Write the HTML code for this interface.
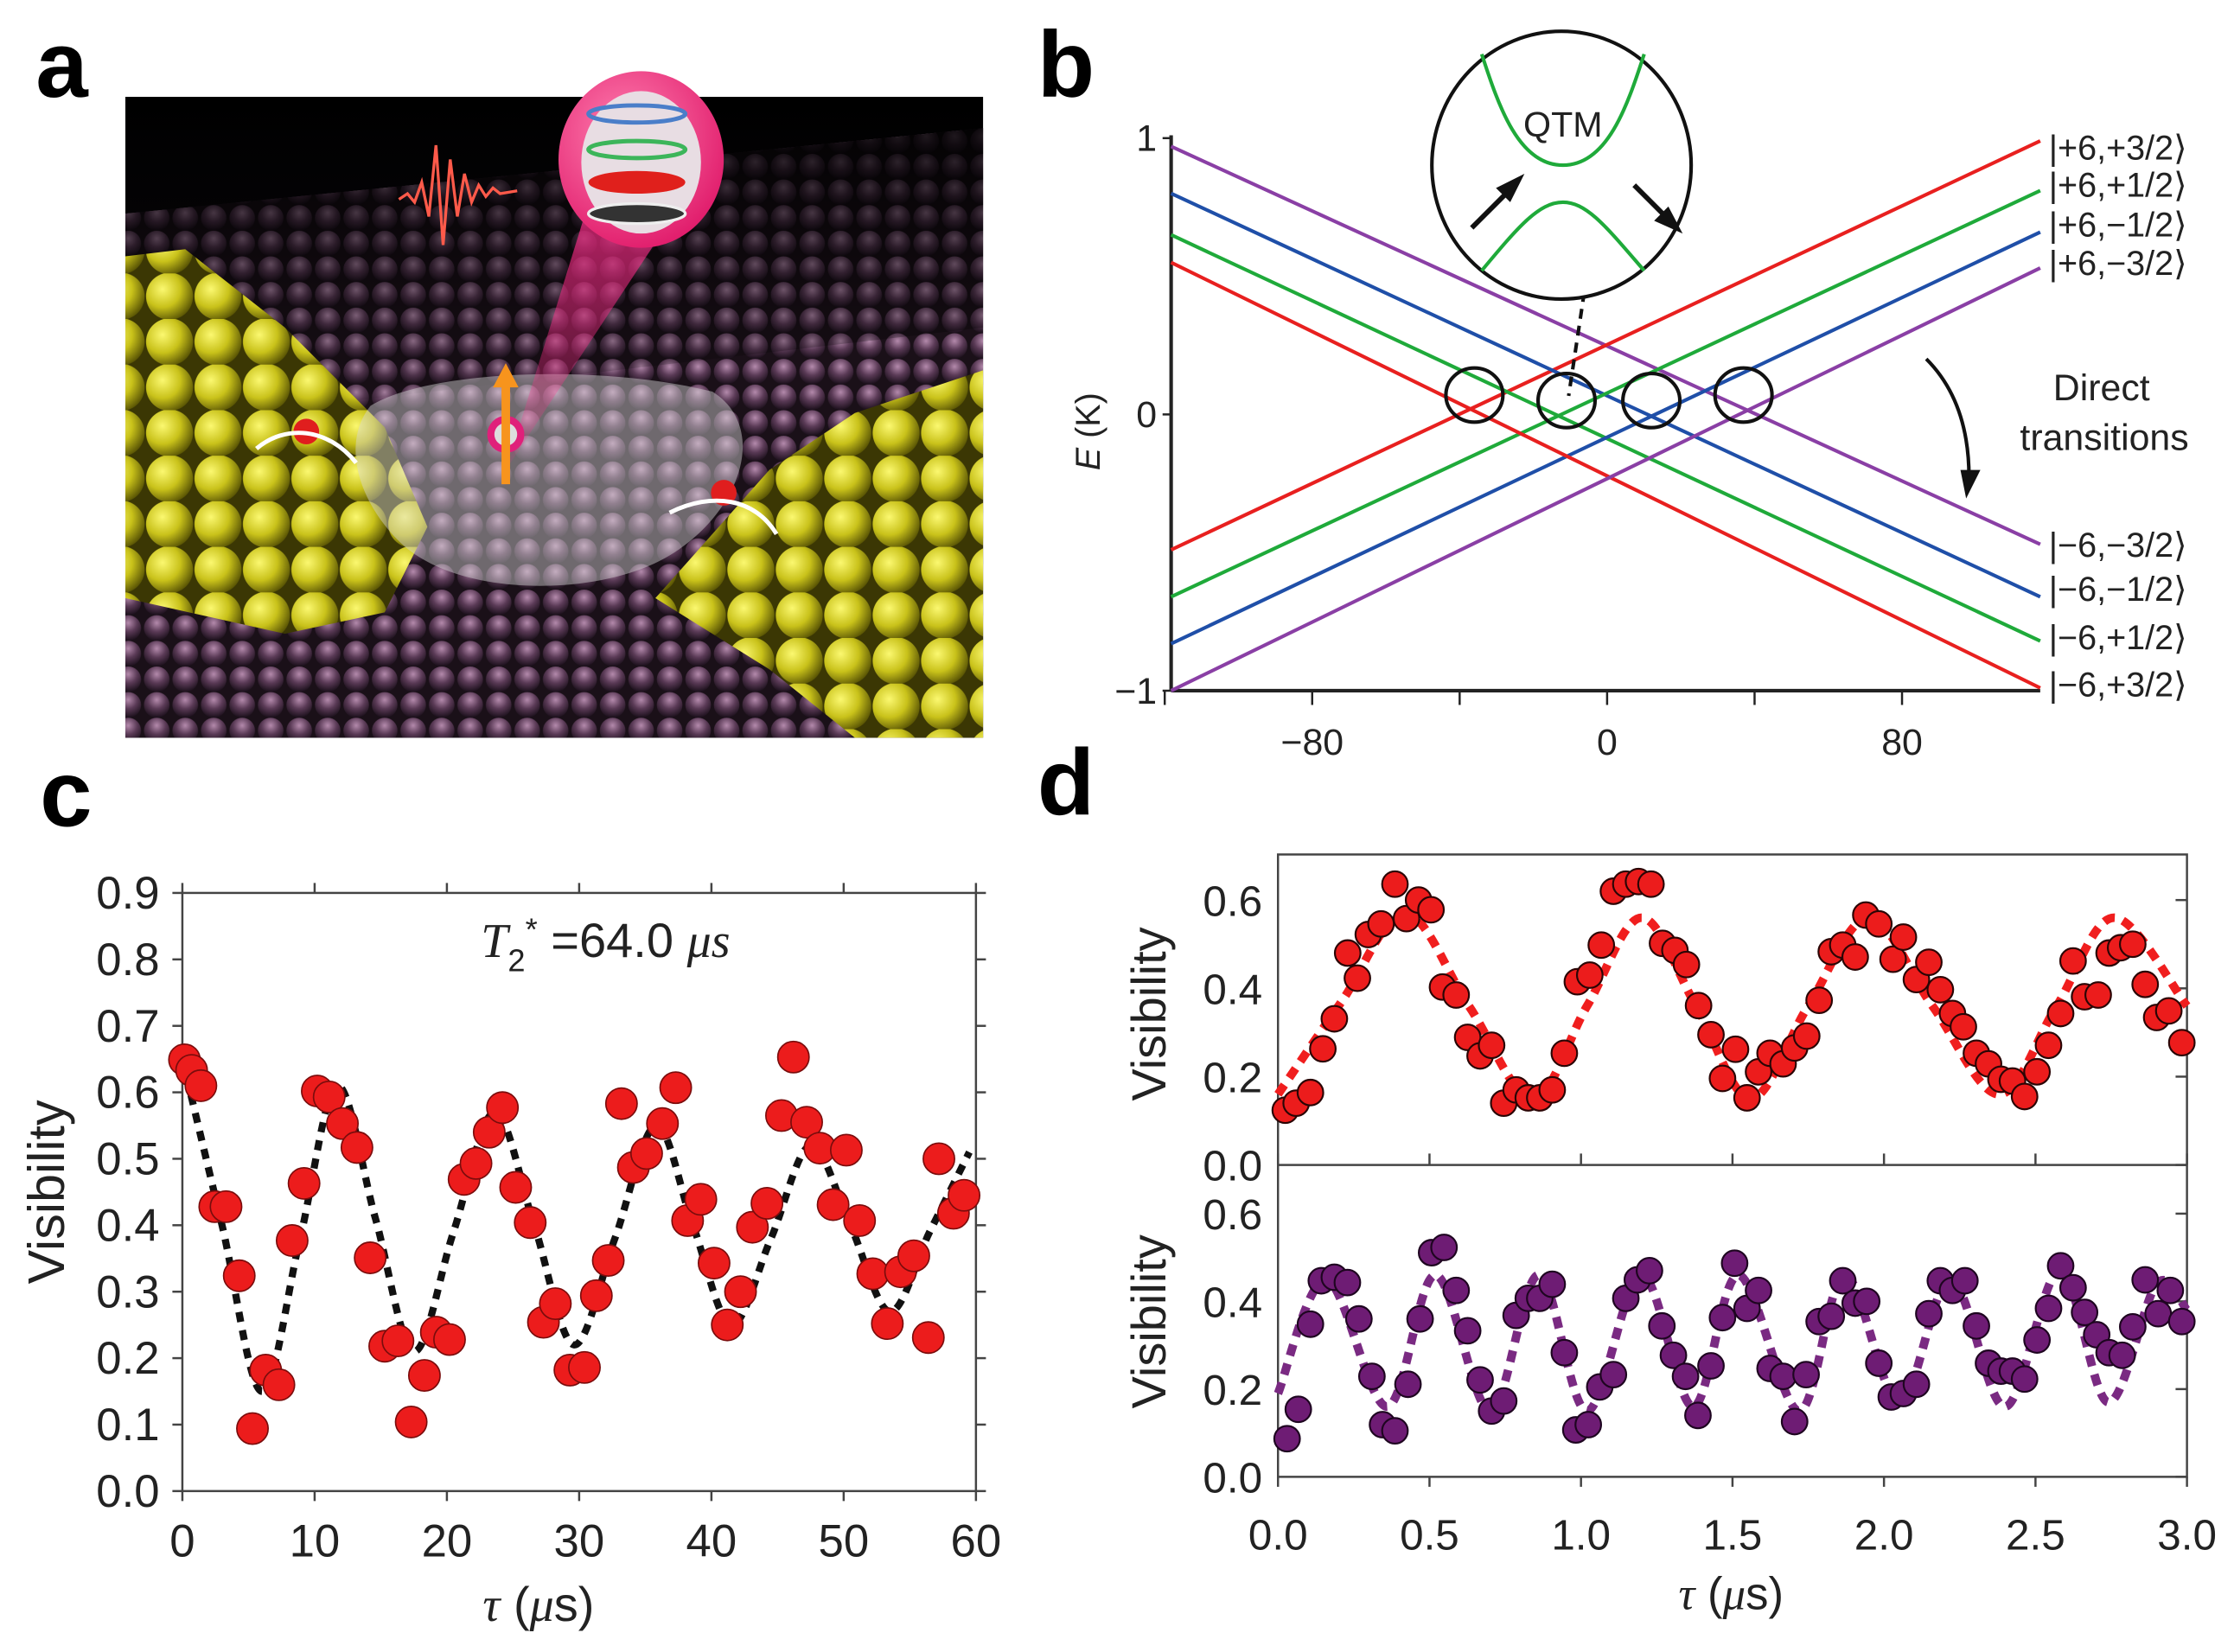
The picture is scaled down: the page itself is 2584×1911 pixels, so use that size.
<!DOCTYPE html>
<html><head><meta charset="utf-8"><style>
html,body{margin:0;padding:0;background:#fff;}
svg{display:block;font-family:"Liberation Sans","DejaVu Sans",sans-serif;}
</style></head><body>
<svg id="fig" width="2584" height="1911" viewBox="0 0 1568 1160" preserveAspectRatio="none" xmlns="http://www.w3.org/2000/svg">
<defs>
<radialGradient id="gold" cx="0.35" cy="0.35" r="0.7"><stop offset="0" stop-color="#fbf870"/><stop offset="0.55" stop-color="#c9c21a"/><stop offset="1" stop-color="#5d5805"/></radialGradient>
<radialGradient id="pinkball" cx="0.5" cy="0.3" r="0.7"><stop offset="0" stop-color="#b48aac"/><stop offset="0.5" stop-color="#5a3a56"/><stop offset="1" stop-color="#1a0f1a"/></radialGradient>
<pattern id="floor" width="20" height="18" patternUnits="userSpaceOnUse"><rect width="20" height="18" fill="#1a1018"/><circle cx="10" cy="9" r="9" fill="url(#pinkball)"/></pattern>
<pattern id="goldp" width="34" height="32" patternUnits="userSpaceOnUse"><rect width="34" height="32" fill="#3b3704"/><circle cx="17" cy="16" r="16.5" fill="url(#gold)"/></pattern>
<linearGradient id="sky" x1="0" y1="0" x2="0" y2="1"><stop offset="0" stop-color="#000"/><stop offset="1" stop-color="#15101a"/></linearGradient>
<linearGradient id="fade" x1="0" y1="0" x2="0" y2="1"><stop offset="0" stop-color="#000" stop-opacity="0.85"/><stop offset="1" stop-color="#000" stop-opacity="0"/></linearGradient>
<radialGradient id="pinkS" cx="0.4" cy="0.35" r="0.7"><stop offset="0" stop-color="#ff7fb0"/><stop offset="1" stop-color="#e01a6a"/></radialGradient>
<linearGradient id="beam" x1="0" y1="0" x2="0" y2="1"><stop offset="0" stop-color="#ff2d8a" stop-opacity="0.8"/><stop offset="1" stop-color="#ff2d8a" stop-opacity="0.1"/></linearGradient>
</defs>

<text x="25" y="68" font-size="66" font-weight="bold">a</text>
<text x="728" y="68" font-size="66" font-weight="bold">b</text>
<text x="28" y="580" font-size="66" font-weight="bold">c</text>
<text x="728" y="572" font-size="66" font-weight="bold">d</text>

<g>
<rect x="88" y="68" width="602" height="450" fill="url(#sky)"/>
<polygon points="88,150 690,90 690,518 88,518" fill="url(#floor)"/>
<polygon points="88,150 690,90 690,230 88,300" fill="url(#fade)"/>
<polygon points="88,180 130,175 200,230 270,300 300,370 270,430 200,445 88,420" fill="url(#goldp)"/>
<polygon points="460,420 540,330 600,290 690,260 690,518 600,518 540,470" fill="url(#goldp)"/>
<path d="M260,285 C300,260 420,255 500,275 C540,300 520,360 470,390 C420,420 320,420 280,380 C250,350 240,310 260,285Z" fill="#d8d8d8" opacity="0.45"/>
<polygon points="355,330 420,120 480,140" fill="url(#beam)"/>
<ellipse cx="450" cy="112" rx="58" ry="62" fill="url(#pinkS)"/>
<ellipse cx="450" cy="114" rx="42" ry="50" fill="#e8dde3"/>
<ellipse cx="447" cy="80" rx="34" ry="6" fill="none" stroke="#4a7ec9" stroke-width="3"/>
<ellipse cx="447" cy="105" rx="34" ry="6" fill="none" stroke="#3cb55a" stroke-width="3"/>
<ellipse cx="447" cy="128" rx="34" ry="8" fill="#e0201c"/>
<ellipse cx="447" cy="150" rx="34" ry="7" fill="#333" stroke="#eee" stroke-width="2"/>
<path d="M280,140 l6,-4 l5,6 l5,-14 l5,24 l5,-50 l5,70 l5,-60 l5,40 l5,-30 l5,20 l5,-12 l5,8 l5,-6 l5,4 l12,-2" fill="none" stroke="#ff5a4a" stroke-width="2"/>
<circle cx="355" cy="305" r="13" fill="#e0207a"/>
<circle cx="355" cy="305" r="8" fill="#ddd"/>
<rect x="352" y="270" width="6" height="70" fill="#f7941d"/>
<polygon points="346,272 355,255 364,272" fill="#f7941d"/>
<circle cx="215" cy="303" r="9" fill="#e01e1e"/>
<circle cx="508" cy="346" r="9" fill="#e01e1e"/>
<path d="M180,315 C200,298 230,300 250,325" fill="none" stroke="#fff" stroke-width="3"/>
<path d="M470,360 C500,345 530,350 545,375" fill="none" stroke="#fff" stroke-width="3"/>
</g>

<g id="panelB"></g>
<g id="panelC"></g>
<g id="panelD"></g>
</svg>
<script>
// ---------- Panel b data ----------
const bXTicks = [-80, 0, 80];
const bYTicks = [-1, 0, 1];
const bDescStart = [0.97, 0.80, 0.65, 0.55];
const bDescEnd = [-0.47, -0.66, -0.82, -0.99];
const bAscStart = [-0.49, -0.66, -0.83, -1.00];
const bAscEnd = [0.99, 0.81, 0.66, 0.53];
const bDescColors = ['#8a3fa5', '#1f4fa8', '#1faa3a', '#e8201f'];
const bAscColors = ['#e8201f', '#1faa3a', '#1f4fa8', '#8a3fa5'];
const bCrossX = [-36, -11, 12, 37];
const bCrossE = [0.07, 0.05, 0.05, 0.07];
const bTopLabels = ['|+6,+3/2⟩', '|+6,+1/2⟩', '|+6,−1/2⟩', '|+6,−3/2⟩'];
const bBotLabels = ['|−6,−3/2⟩', '|−6,−1/2⟩', '|−6,+1/2⟩', '|−6,+3/2⟩'];

// ---------- Panel c data ----------
const cXTicks = [0, 10, 20, 30, 40, 50, 60];
const cYTicks = [0.0, 0.1, 0.2, 0.3, 0.4, 0.5, 0.6, 0.7, 0.8, 0.9];
const cTau = [0.16,0.7,1.4,2.45,3.3,4.3,5.3,6.3,7.3,8.3,9.2,10.2,11.1,12.1,13.2,14.2,15.3,16.3,17.3,18.3,19.2,20.2,21.3,22.2,23.2,24.2,25.2,26.3,27.3,28.2,29.3,30.4,31.3,32.2,33.2,34.1,35.1,36.3,37.3,38.2,39.2,40.2,41.2,42.2,43.1,44.2,45.3,46.2,47.2,48.2,49.2,50.2,51.2,52.2,53.3,54.3,55.3,56.4,57.2,58.3,59.1];
const cVis = [0.649,0.633,0.61,0.428,0.428,0.324,0.094,0.182,0.16,0.377,0.463,0.602,0.593,0.553,0.517,0.351,0.218,0.226,0.104,0.174,0.239,0.228,0.469,0.493,0.54,0.577,0.457,0.404,0.254,0.282,0.182,0.186,0.294,0.347,0.583,0.487,0.508,0.553,0.607,0.407,0.439,0.343,0.25,0.3,0.397,0.433,0.565,0.653,0.555,0.516,0.431,0.513,0.407,0.327,0.252,0.33,0.354,0.231,0.5,0.418,0.445];
const cFitTau = [0, 3, 6, 8.9, 11.7, 14.6, 17.5, 20.5, 23.6, 26.6, 29.6, 32.7, 35.8, 38.6, 41.5, 44.5, 47.5, 50.5, 53.5, 56.5, 59.5];
const cFitVis = [0.65, 0.40, 0.15, 0.38, 0.61, 0.41, 0.21, 0.39, 0.57, 0.40, 0.22, 0.38, 0.55, 0.40, 0.25, 0.38, 0.52, 0.40, 0.27, 0.39, 0.51];

// ---------- Panel d data ----------
const dXTicks = [0.0, 0.5, 1.0, 1.5, 2.0, 2.5, 3.0];
const dXTickLabels = ['0.0','0.5','1.0','1.5','2.0','2.5','3.0'];
const dYTicks = [0.0, 0.2, 0.4, 0.6];
const dUpTau = [0.024,0.06,0.107,0.148,0.186,0.23,0.262,0.298,0.34,0.386,0.424,0.464,0.505,0.543,0.588,0.626,0.667,0.705,0.745,0.786,0.826,0.864,0.905,0.945,0.988,1.029,1.067,1.107,1.148,1.19,1.231,1.269,1.31,1.348,1.388,1.429,1.467,1.51,1.548,1.586,1.624,1.667,1.705,1.745,1.786,1.826,1.864,1.905,1.94,1.983,2.03,2.064,2.107,2.148,2.186,2.226,2.262,2.305,2.345,2.386,2.424,2.464,2.505,2.543,2.583,2.624,2.662,2.707,2.743,2.781,2.821,2.862,2.9,2.94,2.983];
const dUpVis = [0.124,0.14,0.164,0.263,0.331,0.48,0.423,0.522,0.546,0.636,0.558,0.6,0.578,0.403,0.385,0.289,0.247,0.271,0.14,0.17,0.152,0.152,0.17,0.253,0.415,0.43,0.498,0.62,0.636,0.642,0.636,0.502,0.486,0.454,0.361,0.295,0.196,0.262,0.152,0.211,0.253,0.229,0.265,0.292,0.373,0.483,0.498,0.471,0.566,0.546,0.466,0.516,0.42,0.459,0.397,0.343,0.313,0.253,0.229,0.194,0.19,0.155,0.211,0.271,0.343,0.462,0.381,0.385,0.48,0.492,0.5,0.409,0.334,0.349,0.277];
const dUpFitTau = [0, 0.21, 0.42, 0.63, 0.84, 1.02, 1.2, 1.38, 1.56, 1.75, 1.95, 2.16, 2.38, 2.57, 2.76, 3.0];
const dUpFitVis = [0.16, 0.37, 0.57, 0.36, 0.15, 0.36, 0.56, 0.36, 0.15, 0.36, 0.56, 0.36, 0.16, 0.36, 0.56, 0.36];
const dLoTau = [0.03,0.067,0.107,0.143,0.186,0.229,0.267,0.31,0.345,0.386,0.429,0.469,0.507,0.548,0.588,0.626,0.667,0.705,0.745,0.786,0.826,0.864,0.905,0.945,0.983,1.024,1.062,1.107,1.148,1.186,1.226,1.267,1.305,1.345,1.386,1.429,1.467,1.507,1.548,1.586,1.624,1.667,1.705,1.743,1.786,1.826,1.864,1.905,1.943,1.983,2.024,2.064,2.107,2.148,2.186,2.226,2.267,2.305,2.345,2.386,2.424,2.464,2.505,2.543,2.583,2.624,2.662,2.702,2.743,2.786,2.821,2.862,2.905,2.945,2.983];
const dLoVis = [0.087,0.154,0.348,0.447,0.455,0.443,0.36,0.229,0.119,0.105,0.211,0.36,0.511,0.523,0.425,0.333,0.221,0.15,0.173,0.368,0.407,0.407,0.439,0.283,0.107,0.119,0.205,0.233,0.407,0.449,0.47,0.344,0.277,0.229,0.14,0.253,0.363,0.487,0.384,0.425,0.247,0.229,0.126,0.233,0.354,0.366,0.447,0.396,0.4,0.259,0.182,0.19,0.211,0.372,0.447,0.425,0.447,0.344,0.259,0.241,0.241,0.223,0.312,0.384,0.481,0.431,0.375,0.324,0.283,0.277,0.342,0.449,0.372,0.425,0.354];
const dLoFitTau = [0, 0.16, 0.36, 0.52, 0.70, 0.86, 1.02, 1.20, 1.37, 1.52, 1.72, 1.87, 2.05, 2.22, 2.40, 2.58, 2.74, 2.90, 3.0];
const dLoFitVis = [0.19, 0.45, 0.16, 0.46, 0.15, 0.46, 0.15, 0.46, 0.16, 0.46, 0.15, 0.46, 0.17, 0.45, 0.16, 0.47, 0.17, 0.44, 0.38];

const NS = 'http://www.w3.org/2000/svg';
function mk(parent, tag, attrs, txt) {
  const e = document.createElementNS(NS, tag);
  for (const k in attrs) e.setAttribute(k, attrs[k]);
  if (txt !== undefined) e.textContent = txt;
  parent.appendChild(e);
  return e;
}
function smooth(pts) {
  let d = 'M' + pts[0][0] + ',' + pts[0][1];
  for (let i = 0; i < pts.length - 1; i++) {
    const p0 = pts[Math.max(0, i - 1)], p1 = pts[i], p2 = pts[i + 1], p3 = pts[Math.min(pts.length - 1, i + 2)];
    const c1x = p1[0] + (p2[0] - p0[0]) / 6, c1y = p1[1] + (p2[1] - p0[1]) / 6;
    const c2x = p2[0] - (p3[0] - p1[0]) / 6, c2y = p2[1] - (p3[1] - p1[1]) / 6;
    d += ' C' + c1x + ',' + c1y + ' ' + c2x + ',' + c2y + ' ' + p2[0] + ',' + p2[1];
  }
  return d;
}

// ---------- Panel b ----------
(function () {
  const g = document.getElementById('panelB');
  const x0 = 822, x1 = 1432;
  const bx = v => 1128 + v * (207 / 80);
  const by = v => 291 - v * 194;
  let e;
  e = mk(g, 'line', { x1: x0, y1: 95, x2: x0, y2: 485, stroke: '#222', 'stroke-width': 2.5 });
  
  
  e = mk(g, 'line', { x1: x0, y1: 485, x2: x1, y2: 485, stroke: '#222', 'stroke-width': 2.5 });
  
  
  [-120, -80, -40, 0, 40, 80].forEach(v => {
    const t = mk(g, 'line', { x1: bx(v), y1: 485, x2: bx(v), y2: 495, stroke: '#222', 'stroke-width': 1.5 });
    
    
  });
  bXTicks.forEach(v => {
    const t = mk(g, 'text', { x: bx(v), y: 530, 'font-size': 26, 'text-anchor': 'middle', fill: '#222' }, v < 0 ? '−' + Math.abs(v) : String(v));
    
    
  });
  bYTicks.forEach(v => {
    const t = mk(g, 'text', { x: 812, y: by(v) + 9, 'font-size': 26, 'text-anchor': 'end', fill: '#222' }, v < 0 ? '−' + Math.abs(v) : String(v));
    
    
    const tk = mk(g, 'line', { x1: x0, y1: by(v), x2: x0 - 6, y2: by(v), stroke: '#222', 'stroke-width': 1.5 });
    
    
  });
  e = mk(g, 'text', { x: 772, y: 303, 'font-size': 24, 'text-anchor': 'middle', fill: '#222', transform: 'rotate(-90 772 303)' });
  e.innerHTML = '<tspan font-style="italic">E</tspan> (K)';
  
  
  for (let i = 0; i < 4; i++) {
    const l = mk(g, 'line', { x1: x0, y1: by(bDescStart[i]), x2: x1, y2: by(bDescEnd[i]), stroke: bDescColors[i], 'stroke-width': 2.5 });
    
    
    const m = mk(g, 'line', { x1: x0, y1: by(bAscStart[i]), x2: x1, y2: by(bAscEnd[i]), stroke: bAscColors[i], 'stroke-width': 2.5 });
    
    
  }
  for (let i = 0; i < bCrossX.length; i++) {
    const c = mk(g, 'ellipse', { cx: bx(bCrossX[i]), cy: by(bCrossE[i]), rx: 20, ry: 19, fill: 'none', stroke: '#111', 'stroke-width': 2.5 });
    
    
  }
  e = mk(g, 'line', { x1: 1112, y1: 205, x2: 1101, y2: 278, stroke: '#111', 'stroke-width': 2.5, 'stroke-dasharray': '7,5' });
  
  
  const q = mk(g, 'g', {});
  
  
  mk(q, 'ellipse', { cx: 1096, cy: 116, rx: 91, ry: 94, fill: '#fff', stroke: '#111', 'stroke-width': 2.5 });
  mk(q, 'path', { d: 'M1040,38 C1052,75 1066,116 1097,116 C1128,116 1142,75 1154,38', fill: 'none', stroke: '#1faa3a', 'stroke-width': 2.5 });
  mk(q, 'path', { d: 'M1040,190 C1065,160 1080,142 1097,142 C1114,142 1128,160 1154,190', fill: 'none', stroke: '#1faa3a', 'stroke-width': 2.5 });
  mk(q, 'text', { x: 1097, y: 96, 'font-size': 25, 'text-anchor': 'middle', fill: '#222' }, 'QTM');
  mk(q, 'line', { x1: 1033, y1: 160, x2: 1062, y2: 131, stroke: '#111', 'stroke-width': 3.5 });
  mk(q, 'polygon', { points: '1070,122 1050,132 1060,142', fill: '#111' });
  mk(q, 'line', { x1: 1147, y1: 130, x2: 1173, y2: 156, stroke: '#111', 'stroke-width': 3.5 });
  mk(q, 'polygon', { points: '1181,164 1161,155 1171,145', fill: '#111' });
  e = mk(g, 'path', { d: 'M1352,252 C1375,275 1382,305 1382,335', fill: 'none', stroke: '#111', 'stroke-width': 2.5 });
  
  
  mk(g, 'polygon', { points: '1376,330 1390,330 1380,350', fill: '#111' });
  e = mk(g, 'text', { x: 1475, y: 281, 'font-size': 26, 'text-anchor': 'middle', fill: '#222' }, 'Direct');
  
  
  e = mk(g, 'text', { x: 1477, y: 316, 'font-size': 26, 'text-anchor': 'middle', fill: '#222' }, 'transitions');
  
  
  const topY = [112, 138, 166, 193], botY = [391, 422, 456, 489];
  for (let i = 0; i < 4; i++) {
    const a = mk(g, 'text', { x: 1438, y: topY[i], 'font-size': 24, fill: '#222' }, bTopLabels[i]);
    
    
    const b = mk(g, 'text', { x: 1438, y: botY[i], 'font-size': 24, fill: '#222' }, bBotLabels[i]);
    
    
  }
})();

// ---------- Panel c ----------
(function () {
  const g = document.getElementById('panelC');
  const L = 128, R = 685, T = 627, B = 1047;
  const cx = v => L + (v / 60) * (R - L);
  const cy = v => B - (v / 0.9) * (B - T);
  let e = mk(g, 'rect', { x: L, y: T, width: R - L, height: B - T, fill: 'none', stroke: '#444', 'stroke-width': 1.5 });
  
  
  cXTicks.forEach(v => {
    const t = mk(g, 'line', { x1: cx(v), y1: B, x2: cx(v), y2: B + 7, stroke: '#444', 'stroke-width': 1.5 });
    
    
    const t2 = mk(g, 'line', { x1: cx(v), y1: T, x2: cx(v), y2: T - 7, stroke: '#444', 'stroke-width': 1.5 });
    
    
    const lb = mk(g, 'text', { x: cx(v), y: 1093, 'font-size': 32, 'text-anchor': 'middle', fill: '#222' }, String(v));
    
    
  });
  cYTicks.forEach(v => {
    const t = mk(g, 'line', { x1: L, y1: cy(v), x2: L - 7, y2: cy(v), stroke: '#444', 'stroke-width': 1.5 });
    
    
    const t2 = mk(g, 'line', { x1: R, y1: cy(v), x2: R + 7, y2: cy(v), stroke: '#444', 'stroke-width': 1.5 });
    
    
    const lb = mk(g, 'text', { x: 112, y: cy(v) + 11, 'font-size': 32, 'text-anchor': 'end', fill: '#222' }, v.toFixed(1));
    
    
  });
  e = mk(g, 'text', { x: 45, y: 837, 'font-size': 36, 'text-anchor': 'middle', fill: '#222', transform: 'rotate(-90 45 837)' }, 'Visibility');
  
  
  e = mk(g, 'text', { x: 378, y: 1138, 'font-size': 34, 'text-anchor': 'middle', fill: '#222' });
  e.innerHTML = '<tspan font-family="Liberation Serif" font-style="italic">τ</tspan> (<tspan font-family="Liberation Serif" font-style="italic">μ</tspan>s)';
  
  
  e = mk(g, 'text', { x: 425, y: 672, 'font-size': 34, 'text-anchor': 'middle', fill: '#222' });
  e.innerHTML = '<tspan font-family="Liberation Serif" font-style="italic">T</tspan><tspan font-size="22" dy="10">2</tspan><tspan font-size="22" dy="-22">*</tspan><tspan dy="12"> =64.0 </tspan><tspan font-family="Liberation Serif" font-style="italic">μs</tspan>';
  
  
  const pts = cFitTau.map((t, i) => [cx(t), cy(cFitVis[i])]);
  e = mk(g, 'path', { d: smooth(pts), fill: 'none', stroke: '#111', 'stroke-width': 5, 'stroke-dasharray': '7,6' });
  
  
  cTau.forEach((t, i) => {
    const c = mk(g, 'circle', { cx: cx(t), cy: cy(cVis[i]), r: 11, fill: '#ec1c1c', stroke: '#7a0c0c', 'stroke-width': 1 });
    
    
  });
})();

// ---------- Panel d ----------
(function () {
  const g = document.getElementById('panelD');
  const L = 897, R = 1535;
  const dx = v => L + (v / 3) * (R - L);
  const uy = v => 818 - v * 310;
  const ly = v => 1037 - v * 308;
  let e = mk(g, 'rect', { x: L, y: 600, width: R - L, height: 437, fill: 'none', stroke: '#444', 'stroke-width': 1.5 });
  
  
  e = mk(g, 'line', { x1: L, y1: 818, x2: R, y2: 818, stroke: '#444', 'stroke-width': 1.5 });
  
  
  dXTicks.forEach((v, i) => {
    const t = mk(g, 'line', { x1: dx(v), y1: 818, x2: dx(v), y2: 810, stroke: '#444', 'stroke-width': 1.5 });
    
    
    const t2 = mk(g, 'line', { x1: dx(v), y1: 1037, x2: dx(v), y2: 1044, stroke: '#444', 'stroke-width': 1.5 });
    
    
    const lb = mk(g, 'text', { x: dx(v), y: 1088, 'font-size': 30, 'text-anchor': 'middle', fill: '#222' }, dXTickLabels[i]);
    
    
  });
  dYTicks.forEach(v => {
    [uy, ly].forEach((f, k) => {
      const t = mk(g, 'line', { x1: R, y1: f(v), x2: R - 8, y2: f(v), stroke: '#444', 'stroke-width': 1.5 });
      
      
      const lb = mk(g, 'text', { x: 886, y: f(v) + 11, 'font-size': 30, 'text-anchor': 'end', fill: '#222' }, v.toFixed(1));
      
      
    });
  });
  e = mk(g, 'text', { x: 818, y: 712, 'font-size': 34, 'text-anchor': 'middle', fill: '#222', transform: 'rotate(-90 818 712)' }, 'Visibility');
  
  
  e = mk(g, 'text', { x: 818, y: 928, 'font-size': 34, 'text-anchor': 'middle', fill: '#222', transform: 'rotate(-90 818 928)' }, 'Visibility');
  
  
  e = mk(g, 'text', { x: 1215, y: 1130, 'font-size': 32, 'text-anchor': 'middle', fill: '#222' });
  e.innerHTML = '<tspan font-family="Liberation Serif" font-style="italic">τ</tspan> (<tspan font-family="Liberation Serif" font-style="italic">μ</tspan>s)';
  
  
  e = mk(g, 'path', { d: smooth(dUpFitTau.map((t, i) => [dx(t), uy(dUpFitVis[i])])), fill: 'none', stroke: '#f01e1e', 'stroke-width': 6, 'stroke-dasharray': '8,6' });
  
  
  e = mk(g, 'path', { d: smooth(dLoFitTau.map((t, i) => [dx(t), ly(dLoFitVis[i])])), fill: 'none', stroke: '#7a2a82', 'stroke-width': 6, 'stroke-dasharray': '8,6' });
  
  
  dUpTau.forEach((t, i) => {
    const c = mk(g, 'circle', { cx: dx(t), cy: uy(dUpVis[i]), r: 9, fill: '#ec1c1c', stroke: '#2a0505', 'stroke-width': 1.3 });
    
    
  });
  dLoTau.forEach((t, i) => {
    const c = mk(g, 'circle', { cx: dx(t), cy: ly(dLoVis[i]), r: 9, fill: '#6e1c74', stroke: '#1e0520', 'stroke-width': 1.3 });
    
    
  });
})();
</script>
</body></html>
